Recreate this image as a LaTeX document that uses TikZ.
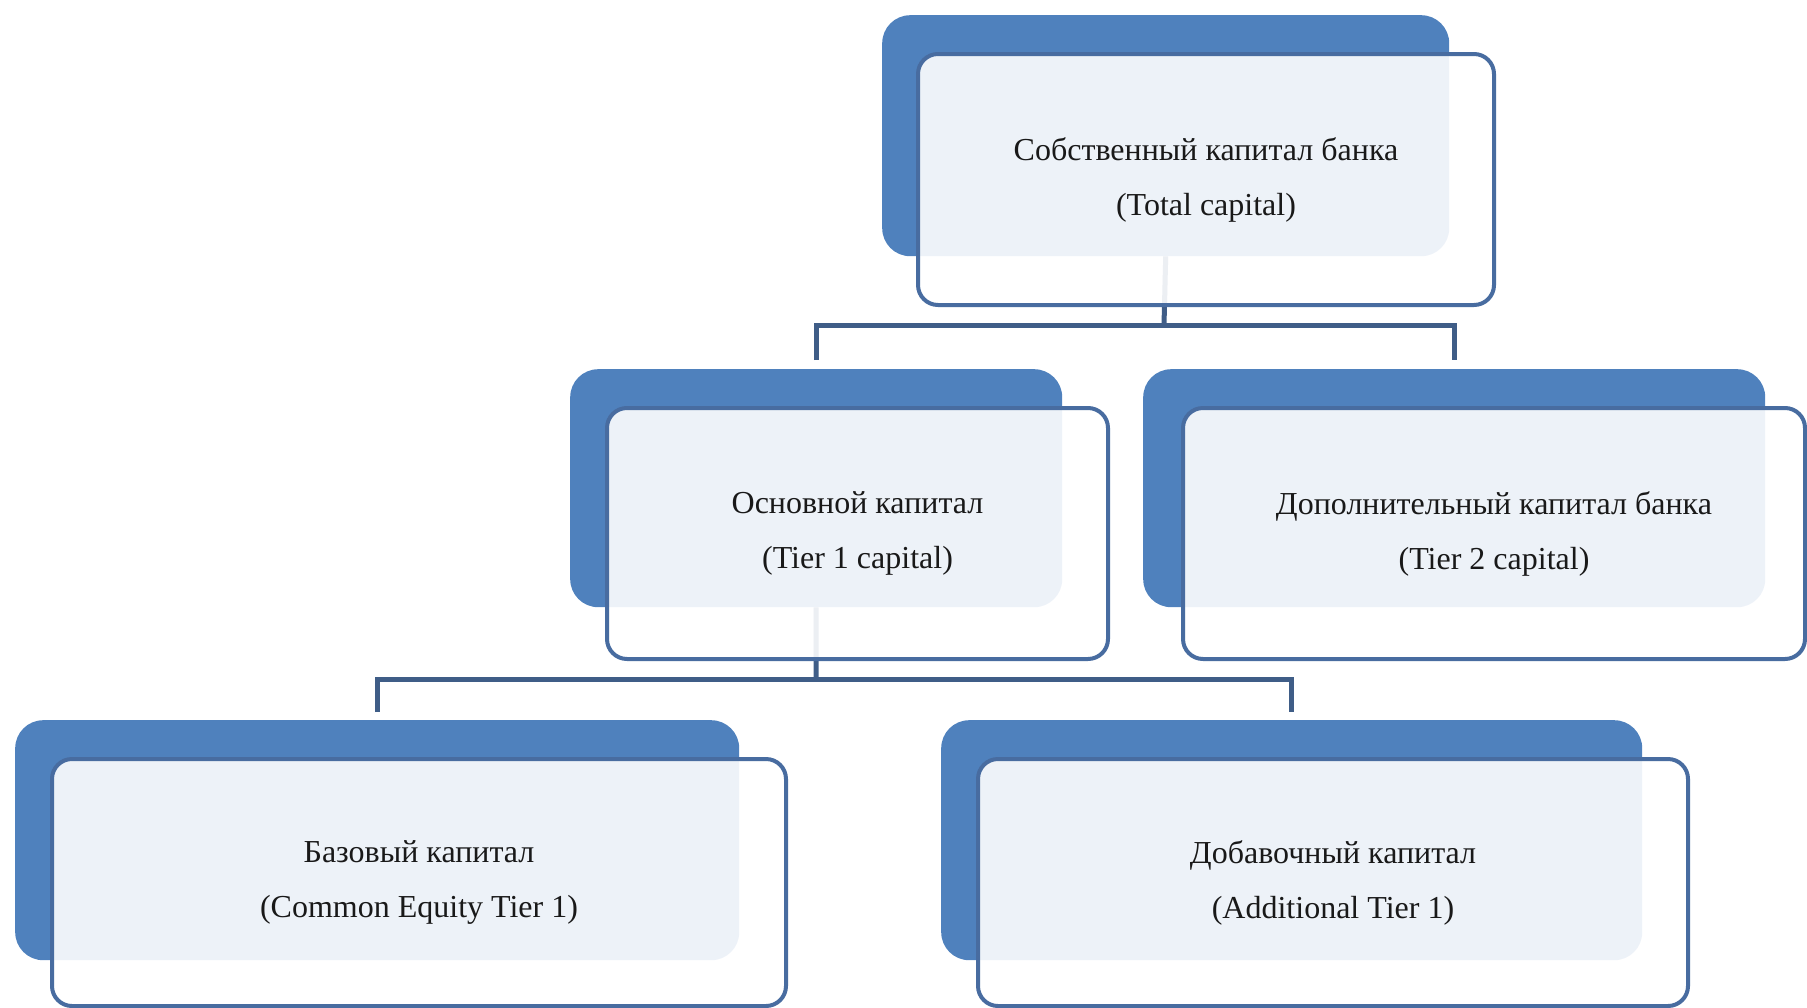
\documentclass[tikz,border=0pt]{standalone}
\usepackage{fontspec}
\setmainfont{Liberation Serif}

\definecolor{backblue}{RGB}{79,129,189}
\definecolor{edgeblue}{RGB}{72,108,160}
\definecolor{linkblue}{RGB}{63,93,135}
\definecolor{inktext}{RGB}{25,25,25}

\tikzset{
  backbox/.style={fill=backblue, rounded corners=28pt, inner sep=0pt, anchor=north west},
  frontbox/.style={draw=edgeblue, line width=4pt, fill=white, fill opacity=0.9, text opacity=1,
    text=inktext, rounded corners=20pt, inner sep=0pt, anchor=north west, align=center,
    font=\fontsize{32}{55}\selectfont},
  link/.style={draw=linkblue, line width=5pt}
}

\begin{document}
\begin{tikzpicture}[x=1pt, y=-1pt]
          \useasboundingbox (0,0) rectangle (1807,1007);

          % back plates
          \node[backbox, minimum width=567pt, minimum height=241pt] (totalBack) at (882,15) {};
          \node[backbox, minimum width=492pt, minimum height=238pt] (tierOneBack) at (570,369) {};
          \node[backbox, minimum width=622pt, minimum height=238pt] (tierTwoBack) at (1143,369) {};
          \node[backbox, minimum width=724pt, minimum height=240pt] (cetOneBack) at (15,720) {};
          \node[backbox, minimum width=701pt, minimum height=240pt] (atOneBack) at (941,720) {};

          % connectors
          \coordinate (busTop) at (1164,325);
          \coordinate (busMid) at (816,679);
          \draw[link] (totalBack.south) -- (busTop);
          \draw[link, shorten <=9pt, shorten >=9pt] (tierOneBack.north) |- (busTop) -| (tierTwoBack.north);
          \draw[link] (tierOneBack.south) -- (busMid);
          \draw[link, shorten <=8pt, shorten >=8pt] (cetOneBack.north) |- (busMid) -| (atOneBack.north);

          % front cards
          \node[frontbox, minimum width=576pt, minimum height=251pt] (total) at (916,52)
            {Собственный капитал банка\\(Total capital)};
          \node[frontbox, minimum width=501pt, minimum height=251pt] (tierOne) at (605,406)
            {Основной капитал\\(Tier 1 capital)};
          \node[frontbox, minimum width=622pt, minimum height=251pt] (tierTwo) at (1181,406)
            {Дополнительный капитал банка\\(Tier 2 capital)};
          \node[frontbox, minimum width=734pt, minimum height=247pt] (cetOne) at (50,757)
            {Базовый капитал\\(Common Equity Tier 1)};
          \node[frontbox, minimum width=710pt, minimum height=247pt] (atOne) at (976,757)
            {Добавочный капитал\\(Additional Tier 1)};

        \end{tikzpicture}
\end{document}
